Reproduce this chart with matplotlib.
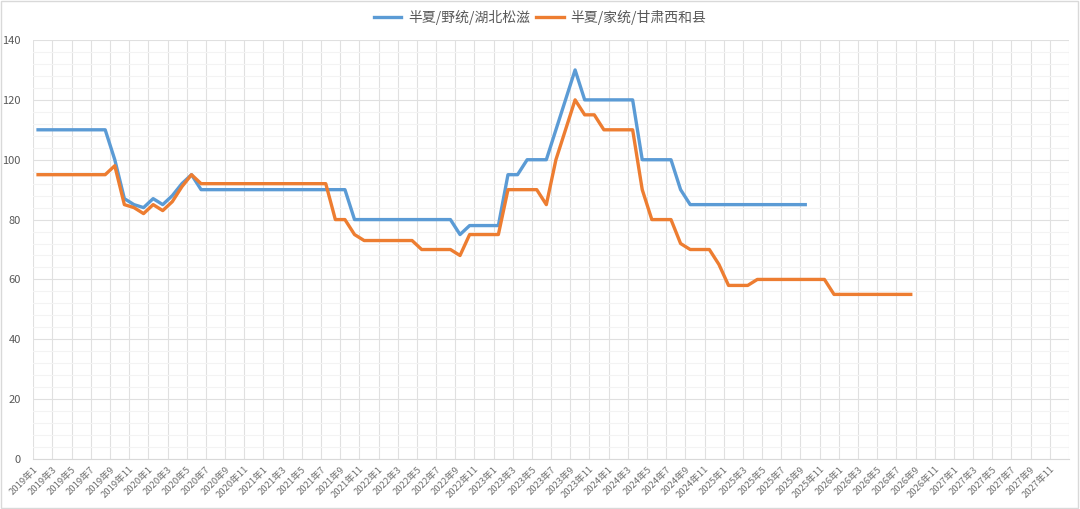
import matplotlib
matplotlib.use("Agg")
import matplotlib.pyplot as plt
import numpy as np
from matplotlib.patches import Rectangle

plt.rcParams['font.family'] = ['Noto Sans CJK SC', 'DejaVu Sans']

# categories: 2019年1 .. 2027年12
years = list(range(2019, 2028))
months = [f"{y}年{m}" for y in years for m in range(1, 13)]

# 半夏/野统/湖北松滋 (2019年1 - 2025年9)
wild = [110, 110, 110, 110, 110, 110, 110, 110, 100, 87, 85, 84, 87, 85, 88, 92, 95,
        90, 90, 90, 90, 90, 90, 90, 90, 90, 90, 90, 90, 90, 90, 90, 90,
        80, 80, 80, 80, 80, 80, 80, 80, 80, 80, 80,
        75, 78, 78, 78, 78, 95, 95, 100, 100, 100, 110, 120, 130,
        120, 120, 120, 120, 120, 120, 100, 100, 100, 100, 90,
        85, 85, 85, 85, 85, 85, 85, 85, 85, 85, 85, 85, 85]

# 半夏/家统/甘肃西和县 (2019年1 - 2026年8)
farmed = [95, 95, 95, 95, 95, 95, 95, 95, 98, 85, 84, 82, 85, 83, 86, 91, 95,
          92, 92, 92, 92, 92, 92, 92, 92, 92, 92, 92, 92, 92, 92,
          80, 80, 75, 73, 73, 73, 73, 73, 73, 70, 70, 70, 70, 68,
          75, 75, 75, 75, 90, 90, 90, 90, 85, 100, 110, 120,
          115, 115, 110, 110, 110, 110, 90, 80, 80, 80, 72, 70, 70, 70, 65,
          58, 58, 58, 60, 60, 60, 60, 60, 60, 60, 60,
          55, 55, 55, 55, 55, 55, 55, 55, 55]

n = len(months)
x_wild = np.arange(len(wild)) + 0.5
x_farmed = np.arange(len(farmed)) + 0.5

fig = plt.figure(figsize=(10.8, 5.09), dpi=100)
ax = fig.add_axes([0.0308, 0.0982, 0.9590, 0.8232])

ax.plot(x_wild, wild, color='#5B9BD5', lw=2.4, label='半夏/野统/湖北松滋', solid_joinstyle='round')
ax.plot(x_farmed, farmed, color='#ED7D31', lw=2.4, label='半夏/家统/甘肃西和县', solid_joinstyle='round')

ax.set_xlim(0, n)
ax.set_ylim(0, 140)
ax.set_yticks(range(0, 141, 20))
ax.set_yticks(range(0, 141, 4), minor=True)
ax.set_xticks(np.arange(0, n, 2))
ax.set_xticklabels(months[::2], rotation=45, ha='right', rotation_mode='anchor')

ax.grid(which='major', axis='both', color='#E0E0E0', lw=0.8)
ax.grid(which='minor', axis='y', color='#F3F3F3', lw=0.8)
ax.axvline(n, color='#E0E0E0', lw=0.8)
ax.set_axisbelow(True)

for s in ['top', 'right', 'left']:
    ax.spines[s].set_visible(False)
ax.spines['bottom'].set_color('#D9D9D9')

ax.tick_params(axis='both', which='both', length=0, colors='#595959')
ax.tick_params(axis='y', labelsize=8, pad=9)
ax.tick_params(axis='x', labelsize=6.8, pad=4, colors='#707070')

fig.legend(loc='center', bbox_to_anchor=(0.5, 0.966), ncol=2, frameon=False,
           fontsize=10, labelcolor='#595959', handlelength=2.0, handletextpad=0.5,
           columnspacing=0.4)

fig.patches.append(Rectangle((0.001, 0.002), 0.997, 0.996, transform=fig.transFigure,
                             fill=False, edgecolor='#D9D9D9', lw=1))

fig.savefig('out.png', dpi=100, facecolor='white')
